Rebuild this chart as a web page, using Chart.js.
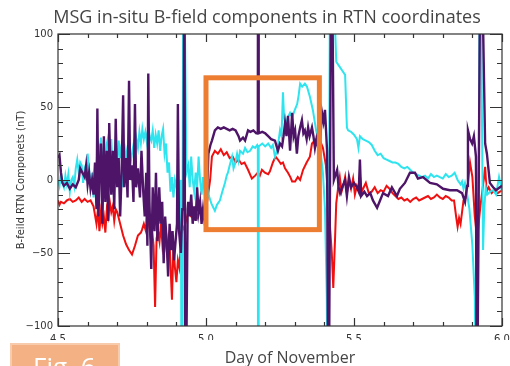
<!DOCTYPE html>
<html lang="en">
<head>
  <meta charset="UTF-8" />
  <title>MSG in-situ B-field components in RTN coordinates</title>
  <script src="https://cdn.jsdelivr.net/npm/chart.js"></script>
  <style>
    html, body { margin: 0; padding: 0; background: #fff; }
    body { width: 510px; height: 366px; position: relative; overflow: hidden; }
    #plot { position: absolute; left: 0; top: 0; }
    .label {
      position: absolute;
      white-space: nowrap;
      transform: translateX(-50%);
      font-family: 'Open Sans', sans-serif;
      color: #454545;
    }
    .main-title { left: 267px; top: 4px; font-size: 18px; line-height: 24px; }
    .x-title { left: 290px; top: 346px; font-size: 16px; line-height: 22px; }
    .fig-tag {
      position: absolute;
      left: 10px; top: 343px;
      width: 110px; height: 40px;
      box-sizing: border-box;
      background: #f4b183;
      border: 2px solid #f8cbad;
    }
    .fig-tag span {
      position: absolute;
      left: 21px; top: 6px;
      font-family: 'Open Sans', sans-serif;
      font-size: 26px; line-height: 30px;
      color: #fff;
    }
  </style>
</head>
<body>
  <canvas id="plot" width="510" height="366"></canvas>
  <div class="label main-title">MSG in-situ B-field components in RTN coordinates</div>
  <div class="label x-title">Day of November</div>
  <div class="fig-tag"><span>Fig. 6</span></div>
  <script>
    // axis labels
    const xTickValues = [4.5, 5.0, 5.5, 6.0];
    const yTickValues = [-100, -50, 0, 50, 100];
    // highlighted interval: [day from, day to, nT low, nT high]
    const boxRange = [5.0, 5.383, -34, 70];

    // [day, nT]
    const purple = [
      [4.500,15],[4.505,17],[4.510,5],[4.515,-2],[4.520,-4],[4.530,-2],[4.540,-6],[4.550,-3],[4.560,-5],[4.570,0],
      [4.575,8],[4.580,6],[4.590,2],[4.595,10],[4.600,-3],[4.605,5],[4.610,-6],[4.615,0],[4.620,-10],[4.625,12],
      [4.630,-20],[4.633,49],[4.637,-25],[4.640,5],[4.645,25],[4.650,-30],[4.655,30],[4.660,-15],[4.665,20],[4.670,-28],
      [4.673,39],[4.680,-10],[4.685,20],[4.690,-20],[4.695,42],[4.700,-5],[4.705,15],[4.710,-25],[4.715,5],[4.720,58],
      [4.724,-5],[4.730,15],[4.735,-12],[4.740,68],[4.744,0],[4.750,10],[4.755,-15],[4.760,52],[4.764,-5],[4.770,8],
      [4.777,-12],[4.782,20],[4.788,-8],[4.793,-25],[4.798,5],[4.802,-45],[4.805,73],[4.809,-15],[4.815,-61],[4.820,-5],
      [4.826,-35],[4.831,5],[4.836,-42],[4.842,-5],[4.847,-30],[4.852,-15],[4.857,-57],[4.862,-25],[4.868,-45],[4.872,-66],
      [4.877,-30],[4.882,-48],[4.887,-35],[4.892,-55],[4.898,-40],[4.902,-30],[4.905,52],[4.909,-35],[4.915,-50],[4.920,-20],
      [4.924,-20],[4.927,200],[4.930,-200],[4.938,-20],[4.940,-15],[4.945,-25],[4.950,-10],[4.955,-30],[4.960,-18],[4.965,-28],
      [4.970,-5],[4.975,-22],[4.980,-15],[4.985,-30],[4.990,-20],[4.995,-28],[5.000,-25],[5.004,-5],[5.008,18],[5.015,24],
      [5.020,27],[5.030,34],[5.040,36],[5.050,35],[5.060,36],[5.070,35],[5.080,34],[5.090,35],[5.100,34],[5.110,30],
      [5.115,27],[5.125,29],[5.132,27],[5.142,34],[5.150,33],[5.160,34],[5.170,32],[5.175,32],[5.176,200],[5.178,32],
      [5.190,33],[5.200,32],[5.210,30],[5.220,28],[5.233,27],[5.243,20],[5.250,25],[5.257,23],[5.262,30],[5.267,39],
      [5.272,30],[5.277,44],[5.284,20],[5.291,46],[5.296,30],[5.301,34],[5.307,18],[5.312,30],[5.318,36],[5.324,41],
      [5.329,32],[5.334,34],[5.340,28],[5.345,36],[5.350,30],[5.358,36],[5.363,30],[5.368,22],[5.373,28],[5.378,23],
      [5.385,25],[5.392,46],[5.397,40],[5.402,48],[5.409,20],[5.414,-200],[5.424,200],[5.432,0],[5.443,7],[5.448,-5],
      [5.453,-9],[5.460,-5],[5.470,0],[5.476,-11],[5.483,2],[5.490,-5],[5.500,-2],[5.510,-5],[5.516,-8],[5.520,14],
      [5.524,-11],[5.535,-8],[5.544,-11],[5.555,-9],[5.564,-14],[5.578,-19],[5.588,-14],[5.598,-9],[5.615,-11],[5.628,-5],
      [5.645,-11],[5.655,-6],[5.672,-2],[5.689,5],[5.706,5],[5.716,1],[5.733,2],[5.757,-2],[5.780,-3],[5.801,-6],
      [5.824,-7],[5.848,-7],[5.865,-9],[5.875,-15],[5.882,-4],[5.885,34],[5.892,28],[5.899,25],[5.905,30],[5.912,16],
      [5.915,-200],[5.928,200],[5.943,25],[5.949,18],[5.959,-2],[5.970,-5],[5.980,-7],[5.993,-5],[6.000,-4]
    ];

    const cyan = [
      [4.500,0],[4.505,-4],[4.510,5],[4.515,-2],[4.520,-5],[4.525,3],[4.530,-3],[4.535,4],[4.540,-8],[4.545,0],
      [4.550,2],[4.555,-4],[4.560,8],[4.565,14],[4.570,5],[4.575,12],[4.580,10],[4.585,-2],[4.590,7],[4.595,3],
      [4.600,18],[4.605,8],[4.610,-5],[4.615,5],[4.620,-12],[4.625,0],[4.630,10],[4.635,27],[4.640,15],[4.645,29],
      [4.650,8],[4.655,20],[4.660,0],[4.665,25],[4.670,30],[4.675,10],[4.680,28],[4.685,5],[4.690,20],[4.695,-3],
      [4.700,10],[4.705,27],[4.710,15],[4.715,25],[4.720,-5],[4.725,8],[4.730,20],[4.735,14],[4.740,22],[4.745,12],
      [4.750,18],[4.755,24],[4.760,16],[4.765,28],[4.770,22],[4.775,33],[4.780,25],[4.785,35],[4.790,28],[4.795,33],
      [4.800,26],[4.805,36],[4.810,30],[4.815,27],[4.820,34],[4.825,22],[4.830,31],[4.835,25],[4.840,34],[4.845,20],
      [4.850,30],[4.855,35],[4.860,18],[4.865,25],[4.870,5],[4.875,12],[4.880,-8],[4.885,2],[4.890,-12],[4.895,0],
      [4.900,-5],[4.905,4],[4.910,-8],[4.915,0],[4.918,-200],[4.924,200],[4.934,5],[4.940,10],[4.945,-5],[4.950,16],
      [4.955,0],[4.960,-8],[4.965,5],[4.970,-5],[4.975,16],[4.980,0],[4.985,-10],[4.990,2],[4.995,-8],[5.000,-2],
      [5.005,-5],[5.010,-11],[5.018,-16],[5.025,-19],[5.030,-21],[5.037,-17],[5.047,-14],[5.055,-8],[5.064,-2],[5.070,3],
      [5.074,5],[5.080,10],[5.088,16],[5.093,8],[5.098,11],[5.105,18],[5.110,13],[5.115,20],[5.125,18],[5.132,22],
      [5.140,19],[5.149,20],[5.158,23],[5.166,22],[5.173,24],[5.175,23],[5.176,-200],[5.178,23],[5.190,25],[5.200,23],
      [5.210,25],[5.220,22],[5.226,24],[5.233,16],[5.240,20],[5.246,28],[5.250,34],[5.255,30],[5.260,60],[5.264,42],
      [5.270,38],[5.277,43],[5.284,46],[5.291,43],[5.300,48],[5.308,52],[5.313,58],[5.318,66],[5.325,64],[5.334,66],
      [5.341,64],[5.351,57],[5.361,48],[5.372,34],[5.385,23],[5.395,5],[5.402,-20],[5.408,-80],[5.412,-200],[5.420,200],
      [5.440,81],[5.450,78],[5.460,75],[5.470,72],[5.476,36],[5.480,34],[5.490,33],[5.500,31],[5.510,28],[5.515,22],
      [5.520,30],[5.530,28],[5.540,27],[5.550,26],[5.560,24],[5.570,20],[5.580,17],[5.590,18],[5.600,15],[5.610,14],
      [5.620,13],[5.630,12],[5.640,12],[5.650,11],[5.660,9],[5.670,8],[5.680,9],[5.690,7],[5.700,5],[5.710,4],
      [5.720,3],[5.730,2],[5.740,3],[5.750,1],[5.760,4],[5.770,2],[5.780,3],[5.790,2],[5.800,1],[5.810,4],
      [5.820,2],[5.830,3],[5.840,5],[5.850,0],[5.860,-3],[5.865,-1],[5.870,-6],[5.875,-2],[5.880,-7],[5.890,-20],
      [5.900,-45],[5.908,-80],[5.916,-200],[5.926,200],[5.936,-48],[5.940,-20],[5.945,-5],[5.950,-10],[5.960,-8],[5.970,-7],
      [5.980,-10],[5.990,2],[6.000,-8]
    ];

    const red = [
      [4.500,-14],[4.505,-17],[4.510,-15],[4.520,-16],[4.530,-14],[4.540,-13],[4.550,-15],[4.560,-14],[4.570,-12],[4.580,-15],
      [4.590,-13],[4.600,-15],[4.610,-14],[4.620,-18],[4.630,-30],[4.635,-20],[4.640,-35],[4.645,-22],[4.650,-30],[4.655,-25],
      [4.660,-36],[4.665,-20],[4.670,-25],[4.675,-15],[4.680,-22],[4.685,-18],[4.690,-28],[4.695,-20],[4.700,-22],[4.710,-30],
      [4.720,-38],[4.730,-44],[4.740,-48],[4.750,-51],[4.760,-45],[4.770,-38],[4.780,-36],[4.784,-34],[4.790,-30],[4.797,-35],
      [4.802,-16],[4.807,-30],[4.812,-38],[4.818,-35],[4.823,-45],[4.828,-87],[4.833,-40],[4.838,-35],[4.843,-42],[4.848,-30],
      [4.853,-45],[4.858,-38],[4.863,-42],[4.868,-50],[4.873,-40],[4.878,-48],[4.885,-82],[4.890,-45],[4.895,-60],[4.900,-70],
      [4.905,-55],[4.910,-60],[4.915,-45],[4.920,-35],[4.930,-30],[4.940,-22],[4.950,-25],[4.960,-20],[4.970,-26],[4.980,-18],
      [4.990,-22],[5.000,-20],[5.007,-10],[5.014,0],[5.020,16],[5.030,20],[5.040,18],[5.050,21],[5.060,17],[5.070,19],
      [5.080,15],[5.090,16],[5.100,12],[5.110,14],[5.120,11],[5.130,12],[5.142,7],[5.155,1],[5.166,3],[5.175,5],
      [5.182,3],[5.189,7],[5.199,5],[5.210,4],[5.216,6],[5.226,12],[5.235,16],[5.243,14],[5.253,11],[5.260,12],
      [5.267,8],[5.277,5],[5.285,2],[5.291,-1],[5.301,-1],[5.310,2],[5.318,0],[5.328,7],[5.340,12],[5.351,16],
      [5.358,25],[5.368,27],[5.378,29],[5.385,27],[5.395,22],[5.405,10],[5.415,-20],[5.425,-50],[5.430,-74],[5.436,-40],
      [5.440,-16],[5.446,-6],[5.452,2],[5.458,-8],[5.465,-3],[5.470,2],[5.476,-9],[5.483,0],[5.490,-6],[5.497,1],
      [5.503,-10],[5.510,-4],[5.516,-7],[5.520,3],[5.526,-8],[5.533,-5],[5.540,-2],[5.550,-9],[5.560,-8],[5.570,-5],
      [5.580,-9],[5.590,-7],[5.600,-8],[5.610,-4],[5.620,-6],[5.630,-9],[5.640,-11],[5.650,-13],[5.660,-12],[5.670,-14],
      [5.680,-13],[5.690,-15],[5.700,-13],[5.710,-12],[5.720,-14],[5.730,-13],[5.740,-12],[5.750,-11],[5.760,-13],[5.770,-12],
      [5.780,-10],[5.790,-12],[5.800,-13],[5.810,-11],[5.820,-12],[5.830,-14],[5.838,-14],[5.845,-25],[5.850,-32],[5.855,-26],
      [5.860,-30],[5.865,-22],[5.870,-14],[5.878,-12],[5.885,-2],[5.892,12],[5.900,2],[5.908,-25],[5.916,-40],[5.926,-20],
      [5.938,0],[5.943,9],[5.948,-8],[5.955,-5],[5.965,-9],[5.975,-7],[5.985,-9],[6.000,-7]
    ];

    const toPoints = arr => arr.map(([x, y]) => ({ x, y }));

    // IDL-style frame: box on all four sides with inward ticks, plus the highlight box
    const framePlugin = {
      id: 'framePlugin',
      afterDatasetsDraw(chart) {
        const { ctx, chartArea: a, scales: { x, y } } = chart;
        ctx.save();
        ctx.strokeStyle = '#333';
        ctx.lineWidth = 1.2;
        ctx.strokeRect(a.left, a.top, a.right - a.left, a.bottom - a.top);
        ctx.beginPath();
        for (let t = 45; t <= 60; t++) {
          const px = Math.round(x.getPixelForValue(t / 10)) + 0.5;
          const len = t % 5 === 0 ? 8 : 4;
          ctx.moveTo(px, a.bottom); ctx.lineTo(px, a.bottom - len);
          ctx.moveTo(px, a.top); ctx.lineTo(px, a.top + len);
        }
        for (let v = -100; v <= 100; v += 10) {
          const py = Math.round(y.getPixelForValue(v)) + 0.5;
          const len = v % 50 === 0 ? 12 : 5;
          ctx.moveTo(a.left, py); ctx.lineTo(a.left + len, py);
          ctx.moveTo(a.right, py); ctx.lineTo(a.right - len, py);
        }
        ctx.stroke();

        const [d0, d1, lo, hi] = boxRange;
        const bx0 = x.getPixelForValue(d0), bx1 = x.getPixelForValue(d1);
        const by0 = y.getPixelForValue(hi), by1 = y.getPixelForValue(lo);
        ctx.strokeStyle = '#ed7d31';
        ctx.lineWidth = 5;
        ctx.strokeRect(bx0, by0, bx1 - bx0, by1 - by0);
        ctx.restore();
      }
    };

    const tickFont = { family: "'DejaVu Sans', sans-serif", size: 10 };

    new Chart(document.getElementById('plot').getContext('2d'), {
      type: 'line',
      data: {
        datasets: [
          { label: 'purple', data: toPoints(purple), borderColor: '#4e1468', borderWidth: 2.4 },
          { label: 'cyan', data: toPoints(cyan), borderColor: '#2ee4ee', borderWidth: 2 },
          { label: 'red', data: toPoints(red), borderColor: '#f01010', borderWidth: 2 }
        ]
      },
      options: {
        responsive: false,
        animation: false,
        parsing: false,
        elements: { point: { radius: 0 }, line: { tension: 0, fill: false } },
        layout: { padding: { top: 34, right: 8, bottom: 26, left: 0 } },
        plugins: { legend: { display: false }, title: { display: false }, tooltip: { enabled: false } },
        scales: {
          x: {
            type: 'linear',
            min: 4.5,
            max: 6.0,
            afterBuildTicks: s => { s.ticks = xTickValues.map(v => ({ value: v })); },
            afterFit: s => { s.height = 14; s.paddingLeft = 0; s.paddingRight = 0; },
            grid: { display: false, drawTicks: false },
            border: { display: false },
            ticks: {
              padding: 7,
              autoSkip: false,
              maxRotation: 0,
              color: '#333',
              font: tickFont,
              callback: v => v.toFixed(1)
            }
          },
          y: {
            min: -100,
            max: 100,
            afterBuildTicks: s => { s.ticks = yTickValues.map(v => ({ value: v })); },
            afterFit: s => { s.width = 58; s.paddingTop = 0; s.paddingBottom = 0; },
            grid: { display: false, drawTicks: false },
            border: { display: false },
            ticks: {
              padding: 5,
              color: '#333',
              font: tickFont,
              callback: v => (v < 0 ? '\u2212' + Math.abs(v) : String(v))
            },
            title: {
              display: true,
              text: 'B-feild RTN Componets (nT)',
              color: '#333',
              font: tickFont,
              padding: { top: 15, bottom: 0 }
            }
          }
        }
      },
      plugins: [framePlugin]
    });
  </script>
</body>
</html>
